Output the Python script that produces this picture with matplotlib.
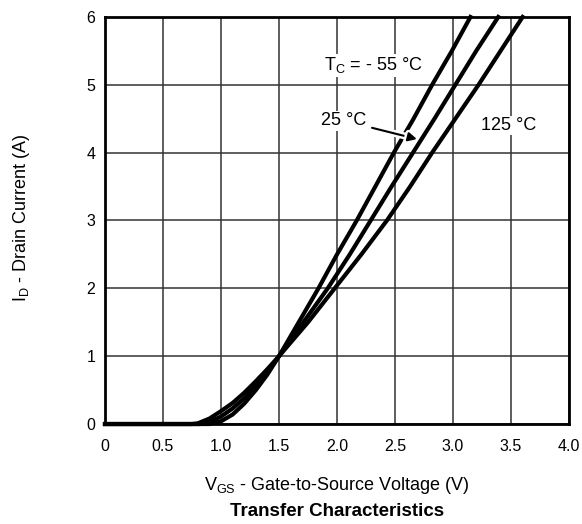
import numpy as np
import matplotlib
matplotlib.use("Agg")
import matplotlib.pyplot as plt
import matplotlib.patheffects as pe

plt.rcParams['font.family'] = ['Liberation Sans', 'DejaVu Sans']

# Transfer characteristics
vgs_m55 = [0, 0.9, 1.0, 1.1, 1.2, 1.3, 1.4, 1.5, 1.67, 1.84, 2.0, 2.17, 2.33, 2.49, 2.66, 2.82, 2.99, 3.15]
id_m55 = [0, 0, 0.04, 0.14, 0.3, 0.5, 0.73, 1.0, 1.5, 2.0, 2.5, 3.0, 3.5, 4.0, 4.5, 5.0, 5.5, 6.0]

vgs_25 = [0, 0.82, 0.9, 1.0, 1.1, 1.2, 1.3, 1.4, 1.5, 1.71, 1.92, 2.11, 2.29, 2.47, 2.655, 2.84, 3.02, 3.2, 3.39]
id_25 = [0, 0, 0.03, 0.11, 0.23, 0.38, 0.56, 0.77, 1.0, 1.5, 2.0, 2.5, 3.0, 3.5, 4.0, 4.5, 5.0, 5.5, 6.0]

vgs_125 = [0, 0.75, 0.8, 0.9, 1.0, 1.1, 1.2, 1.3, 1.4, 1.5, 1.75, 1.98, 2.21, 2.43, 2.63, 2.82, 3.02, 3.22, 3.41, 3.6]
id_125 = [0, 0, 0.01, 0.08, 0.19, 0.31, 0.46, 0.63, 0.81, 1.0, 1.5, 2.0, 2.5, 3.0, 3.5, 4.0, 4.5, 5.0, 5.5, 6.0]

xticks = [0, 0.5, 1.0, 1.5, 2.0, 2.5, 3.0, 3.5, 4.0]
xticklabels = ['0', '0.5', '1.0', '1.5', '2.0', '2.5', '3.0', '3.5', '4.0']
yticks = [0, 1, 2, 3, 4, 5, 6]

fig = plt.figure(figsize=(5.82, 5.24), dpi=100)
ax = fig.add_axes([0.1804, 0.1908, 0.7973, 0.7768])

for x, y in [(vgs_m55, id_m55), (vgs_25, id_25), (vgs_125, id_125)]:
    ax.plot(x, y, color='black', lw=3.0, solid_joinstyle='round', zorder=4, clip_on=False)

ax.set_xlim(0, 4)
ax.set_ylim(0, 6)
ax.set_xticks(xticks)
ax.set_xticklabels(xticklabels)
ax.set_yticks(yticks)
ax.tick_params(length=0, labelsize=11.5)
ax.tick_params(axis='x', pad=11)
ax.tick_params(axis='y', pad=7)
ax.grid(True, color='#333333', lw=1.1, zorder=1)
ax.set_axisbelow(True)
for s in ax.spines.values():
    s.set_linewidth(2)
    s.set_zorder(6)

fig.text(21.7 / 582, 1 - 218 / 524, 'I$_\\mathregular{D}$ - Drain Current (A)', rotation=90,
         ha='center', va='center', fontsize=13)
fig.text(337 / 582, 1 - 486 / 524, 'V$_\\mathregular{GS}$ - Gate-to-Source Voltage (V)',
         ha='center', va='center', fontsize=13)
fig.text(337 / 582, 1 - 511 / 524, 'Transfer Characteristics', ha='center', va='center',
         fontsize=13.5, fontweight='bold')

box = dict(facecolor='white', edgecolor='none', pad=1)
ax.text(2.31, 5.29, 'T$_\\mathregular{C}$ = - 55 °C', ha='center', va='center',
        fontsize=13, bbox=box, zorder=3)
ax.text(3.48, 4.40, '125 °C', ha='center', va='center', fontsize=13, bbox=box, zorder=3)
ax.annotate('25 °C', xy=(2.69, 4.20), xytext=(2.06, 4.47), ha='center', va='center',
            fontsize=13, bbox=box, zorder=5,
            arrowprops=dict(arrowstyle='-|>', color='black', lw=1.5, mutation_scale=13,
                            shrinkA=3, shrinkB=0,
                            path_effects=[pe.Stroke(linewidth=5, foreground='white'), pe.Normal()]))

fig.savefig('out.png', dpi=100, facecolor='white')
